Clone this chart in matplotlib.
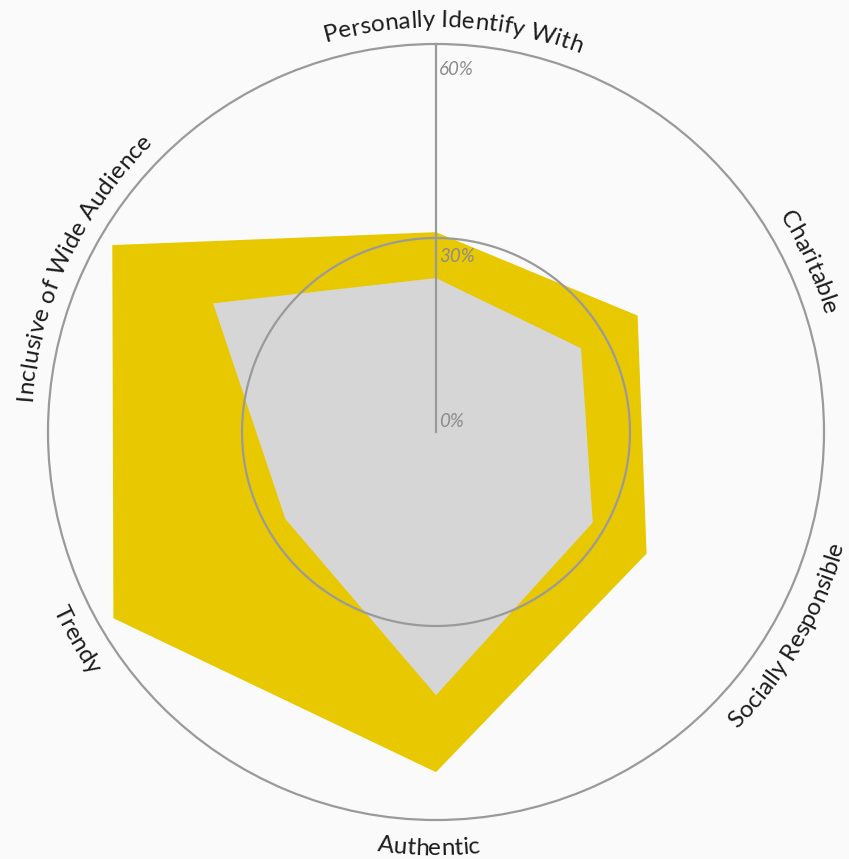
import numpy as np
import matplotlib.pyplot as plt
from matplotlib.font_manager import FontProperties

categories = ['Personally Identify With', 'Charitable', 'Socially Responsible',
              'Authentic', 'Trendy', 'Inclusive of Wide Audience']
brand_a = [30.9, 36.0, 37.6, 52.6, 57.6, 57.8]
brand_b = [23.8, 25.9, 28.0, 40.7, 26.9, 39.8]
tick_vals = [0, 30, 60]
tick_labels = ['0%', '30%', '60%']

bg = '#fafafa'
fig = plt.figure(figsize=(8.49, 8.59), dpi=100, facecolor=bg)
# center ~ (436, 432) px, outer radius ~388 px
R_PX = 388
ax = fig.add_axes([(436 - R_PX) / 849, (427 - R_PX) / 859, 2 * R_PX / 849, 2 * R_PX / 859],
                  projection='polar')
ax.set_facecolor(bg)
ax.set_theta_zero_location('N')
ax.set_theta_direction(-1)
ax.set_ylim(0, 60)

n = len(categories)
theta = np.arange(n) * 2 * np.pi / n
th_closed = np.append(theta, theta[0])

ax.fill(th_closed, brand_a + brand_a[:1], color='#e8c800', lw=0, zorder=2)
ax.fill(th_closed, brand_b + brand_b[:1], color='#d6d6d6', lw=0, zorder=3)

# gridline circle at 30% and radial axis at top
tt = np.linspace(0, 2 * np.pi, 400)
ax.plot(tt, np.full_like(tt, 30), color='#9a9a9a', lw=1.6, zorder=4)
ax.plot([0, 0], [0, 60], color='#9a9a9a', lw=1.6, zorder=4)
ax.spines['polar'].set_color('#9a9a9a')
ax.spines['polar'].set_linewidth(1.6)
ax.grid(False)
ax.set_xticks([])
ax.set_yticks([])

# tick labels (placed just right of the axis line)
tick_offsets = [-1.7, 2.8, 4.0]
for v, lab, off in zip(tick_vals, tick_labels, tick_offsets):
    ax.annotate(lab, xy=(0, v - off), xytext=(2, 0), textcoords='offset points',
                fontsize=13.5, style='italic', color='#8c8c8c', ha='left',
                va='center', zorder=5, fontfamily='Lato')

# curved category labels
fp = FontProperties(family='Lato', size=17.5)
fig.canvas.draw()
renderer = fig.canvas.get_renderer()


def width(s):
    if not s:
        return 0.0
    w, h, d = renderer.get_text_width_height_descent(s.replace(' ', '\u00a0'), fp, ismath=False)
    return w


def curved(label, phi_deg, r_px, upper):
    W = width(label)
    for i, ch in enumerate(label):
        if ch == ' ':
            continue
        c = (width(label[:i]) + width(label[:i + 1])) / 2 - W / 2
        dphi = np.degrees(c / r_px)
        if upper:
            phi = phi_deg + dphi
            rot = -phi
        else:
            phi = phi_deg - dphi
            rot = 180 - phi
        ax.text(np.radians(phi), r_px / R_PX * 60, ch, fontproperties=fp,
                color='#1c1c1c', ha='center', va='baseline', rotation=rot,
                rotation_mode='anchor', clip_on=False, zorder=6)


label_shift = [2.5, 5.5, 0, 1, 0, -5]
for k, lab in enumerate(categories):
    phi = np.degrees(theta[k])
    upper = phi < 90 or phi > 270
    curved(lab, phi + label_shift[k], 405 if upper else 423, upper)

fig.savefig('out.png', dpi=100, facecolor=bg)
